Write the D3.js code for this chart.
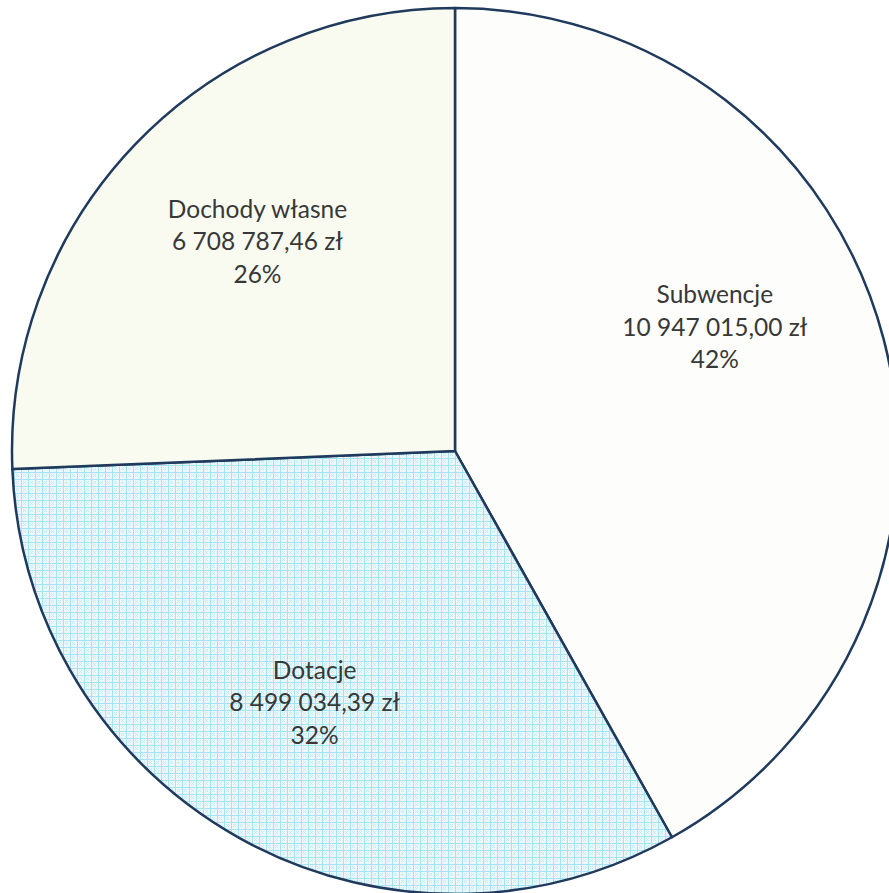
<!DOCTYPE html>
<html>
<head>
<meta charset="utf-8">
<script src="https://cdn.jsdelivr.net/npm/d3@7"></script>
<style>
  html, body { margin: 0; padding: 0; background: #ffffff; }
  svg { display: block; }
</style>
</head>
<body>
<div id="chart"></div>
<script>
// dane z wykresu
var categories = ['Subwencje', 'Dotacje', 'Dochody własne'];
var values = [10947015.00, 8499034.39, 6708787.46];
var amountLabels = ['10 947 015,00 zł', '8 499 034,39 zł', '6 708 787,46 zł'];
var percentLabels = ['42%', '32%', '26%'];

var w = 889;
var h = 893;
var cx = 455, cy = 451, r = 443;

var svg = d3.select('#chart')
  .append('svg')
  .attr('width', w)
  .attr('height', h);

// wzor kratki dla "Dotacje"
var defs = svg.append('defs');
var pat = defs.append('pattern')
  .attr('id', 'grid')
  .attr('patternUnits', 'userSpaceOnUse')
  .attr('width', 7)
  .attr('height', 7);
pat.append('rect').attr('width', 7).attr('height', 7).attr('fill', '#eaf8fc');
pat.append('path')
  .attr('d', 'M0,0.5H7M0.5,0V7')
  .attr('stroke', '#a6e2f2').attr('stroke-width', 1);
pat.append('path')
  .attr('d', 'M2,2L5,5M5,2L2,5')
  .attr('stroke', '#c4ecf7').attr('stroke-width', 1);

var fills = ['#fdfdfb', 'url(#grid)', '#f9fbf0'];

var pie = d3.pie().sort(null).value(function(d) { return d; });
var arcs = pie(values);

var arc = d3.arc().innerRadius(0).outerRadius(r);
var labelArc = d3.arc().innerRadius(288).outerRadius(288);

var g = svg.append('g').attr('transform', 'translate(' + cx + ',' + cy + ')');

g.selectAll('path.slice')
  .data(arcs)
  .enter()
  .append('path')
  .attr('class', 'slice')
  .attr('d', arc)
  .attr('fill', function(d, i) { return fills[i]; })
  .attr('stroke', '#1f3a5c')
  .attr('stroke-width', 2.5)
  .attr('stroke-linejoin', 'round');

// Excel "best fit" przesuwa etykiete Subwencji troche w gore
var angleShift = [-0.19, 0, 0.05];

var labels = g.selectAll('text.lbl')
  .data(arcs)
  .enter()
  .append('text')
  .attr('class', 'lbl')
  .attr('text-anchor', 'middle')
  .attr('font-family', 'Lato, "Open Sans", sans-serif')
  .attr('font-size', 24.5)
  .attr('fill', '#383838')
  .attr('transform', function(d, i) {
    var a = (d.startAngle + d.endAngle) / 2 + angleShift[i];
    var c = labelArc.centroid({startAngle: a, endAngle: a});
    return 'translate(' + c[0] + ',' + c[1] + ')';
  });

labels.each(function(d, i) {
  var t = d3.select(this);
  var lines = [categories[i], amountLabels[i], percentLabels[i]];
  lines.forEach(function(s, k) {
    t.append('tspan')
      .attr('x', 0)
      .attr('y', (k - 1) * 32.5 + 9)
      .text(s);
  });
});
</script>
</body>
</html>
